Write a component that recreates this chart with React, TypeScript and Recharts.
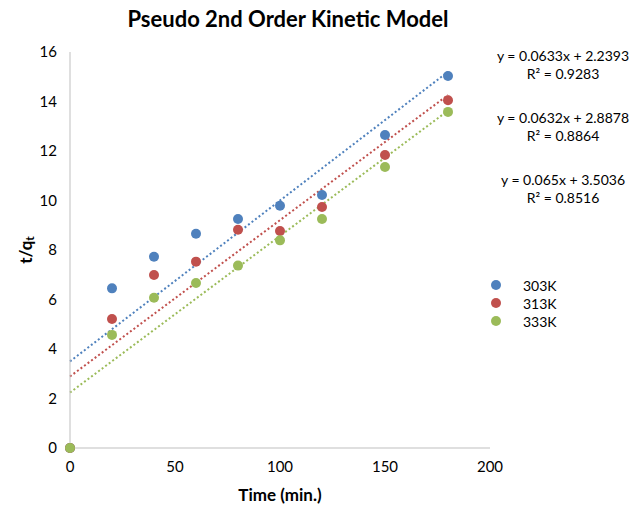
import React from "react";
import {
  ComposedChart,
  Scatter,
  Line,
  XAxis,
  YAxis,
} from "recharts";

const times = [0, 20, 40, 60, 80, 100, 120, 150, 180];
const k303 = [0, 6.45, 7.73, 8.66, 9.25, 9.79, 10.22, 12.65, 15.03];
const k313 = [0, 5.21, 6.99, 7.53, 8.82, 8.77, 9.74, 11.84, 14.05];
const k333 = [0, 4.57, 6.07, 6.67, 7.37, 8.39, 9.25, 11.35, 13.58];

const trendX = [0, 180];
const trend303 = [3.5, 15.2];
const trend313 = [2.89, 14.26];
const trend333 = [2.24, 13.63];

const seriesNames = ["303K", "313K", "333K"];
const colors = ["#4F81BD", "#C0504D", "#9BBB59"];

const equations = [
  ["y = 0.0633x + 2.2393", "R² = 0.9283"],
  ["y = 0.0632x + 2.8878", "R² = 0.8864"],
  ["y = 0.065x + 3.5036", "R² = 0.8516"],
];

const xTicks = [0, 50, 100, 150, 200];
const yTicks = [0, 2, 4, 6, 8, 10, 12, 14, 16];

const toPts = (xs: number[], ys: number[]) => xs.map((x, i) => ({ x, y: ys[i] }));

const pointSets = [toPts(times, k303), toPts(times, k313), toPts(times, k333)];
const trendSets = [toPts(trendX, trend303), toPts(trendX, trend313), toPts(trendX, trend333)];

const FONT = "Lato, 'Open Sans', sans-serif";

const YLabel = (props: any) => {
  const vb = props.viewBox || {};
  const cx = 25;
  const cy = (vb.y ?? 52) + (vb.height ?? 396) / 2;
  return (
    <text
      x={cx}
      y={cy}
      transform={`rotate(-90 ${cx} ${cy})`}
      textAnchor="middle"
      dominantBaseline="central"
      fontFamily={FONT}
      fontWeight="bold"
      fontSize={17}
      fill="#000"
    >
      t/q
      <tspan fontSize={12} dy={4}>t</tspan>
    </text>
  );
};

const XLabel = (props: any) => {
  const vb = props.viewBox || {};
  const cx = (vb.x ?? 70) + (vb.width ?? 420) / 2;
  return (
    <text
      x={cx}
      y={494}
      textAnchor="middle"
      dominantBaseline="central"
      fontFamily={FONT}
      fontWeight="bold"
      fontSize={17}
      fill="#000"
    >
      Time (min.)
    </text>
  );
};

export default function App() {
  return (
    <div style={{ position: "absolute", left: 0, top: 0, width: 632, height: 505, background: "#fff" }}>
      <div
        style={{
          position: "absolute",
          left: 70,
          width: 436,
          top: 5,
          textAlign: "center",
          fontFamily: FONT,
          fontWeight: "bold",
          fontSize: 22,
          color: "#000",
        }}
      >
        Pseudo 2nd Order Kinetic Model
      </div>
      {equations.map((eq, i) => (
        <div
          key={i}
          style={{
            position: "absolute",
            left: 490,
            width: 146,
            top: 47 + i * 62,
            textAlign: "center",
            fontFamily: FONT,
            fontSize: 14,
            lineHeight: "18px",
            color: "#000",
          }}
        >
          <div>{eq[0]}</div>
          <div>{eq[1]}</div>
        </div>
      ))}
      <div
        style={{
          position: "absolute",
          left: 491,
          top: 276,
          fontFamily: FONT,
          fontSize: 14,
          color: "#000",
        }}
      >
        {seriesNames.map((n, i) => (
          <div key={n} style={{ display: "flex", alignItems: "center", height: 18 }}>
            <svg width={10} height={10} style={{ marginRight: 22 }}>
              <circle cx={5} cy={5} r={5} fill={colors[i]} />
            </svg>
            <span>{n}</span>
          </div>
        ))}
      </div>
      <ComposedChart
        width={632}
        height={505}
        margin={{ top: 52, right: 142, bottom: 27, left: 0 }}
        style={{ position: "absolute", left: 0, top: 0 }}
      >
        <XAxis
          dataKey="x"
          type="number"
          domain={[0, 200]}
          ticks={xTicks}
          interval={0}
          tickLine={false}
          tickSize={0}
          tickMargin={13}
          height={30}
          axisLine={{ stroke: "#BFBFBF", strokeWidth: 1 }}
          tick={{ fill: "#000", fontSize: 15, fontFamily: FONT }}
          label={<XLabel />}
        />
        <YAxis
          dataKey="y"
          type="number"
          domain={[0, 16]}
          ticks={yTicks}
          interval={0}
          width={70}
          tickLine={false}
          tickSize={0}
          tickMargin={13}
          axisLine={{ stroke: "#BFBFBF", strokeWidth: 1 }}
          tick={{ fill: "#000", fontSize: 15, fontFamily: FONT }}
          label={<YLabel />}
        />
        {pointSets.map((pts, i) => (
          <Scatter
            key={"s" + i}
            name={seriesNames[i]}
            data={pts}
            dataKey="y"
            fill={colors[i]}
            isAnimationActive={false}
            shape={(p: any) => <circle cx={p.cx} cy={p.cy} r={5} fill={colors[i]} />}
          />
        ))}
        {trendSets.map((pts, i) => (
          <Line
            key={"t" + i}
            data={pts}
            dataKey="y"
            stroke={colors[i]}
            strokeWidth={2}
            strokeDasharray="2 2.4"
            dot={false}
            activeDot={false}
            legendType="none"
            isAnimationActive={false}
          />
        ))}
      </ComposedChart>
    </div>
  );
}
